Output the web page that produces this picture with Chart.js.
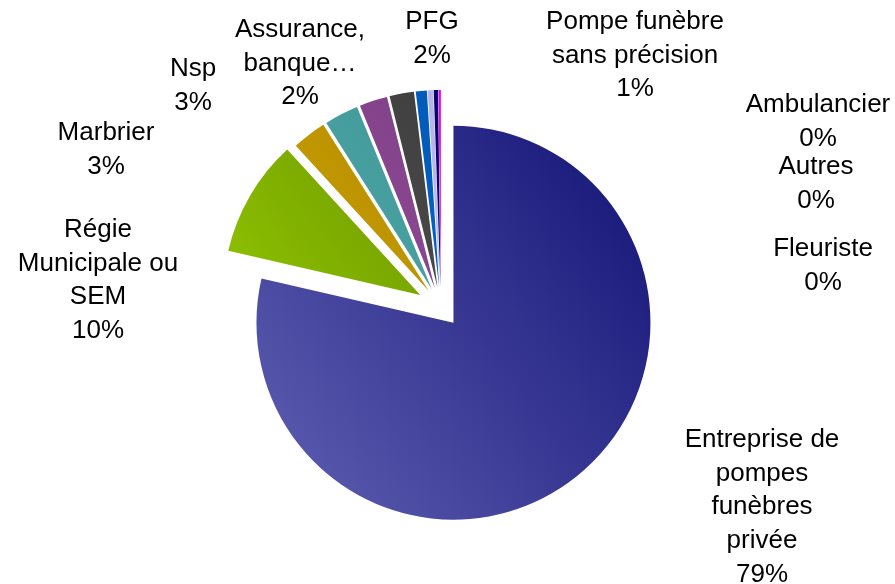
<!DOCTYPE html>
<html>
<head>
<meta charset="utf-8">
<script src="https://cdn.jsdelivr.net/npm/chart.js@4.4.1/dist/chart.umd.min.js"></script>
<style>
    html, body { margin: 0; padding: 0; background: #ffffff; }
    #wrap { width: 895px; height: 584px; }
</style>
</head>
<body>
<div id="wrap"><canvas id="operatorPieChart" width="895" height="584"></canvas></div>
<script>
//// Declarations states

// Data
const categories = [
    ['Entreprise de', 'pompes', 'funèbres', 'privée'],
    ['Régie', 'Municipale ou', 'SEM'],
    ['Marbrier'],
    ['Nsp'],
    ['Assurance,', 'banque…'],
    ['PFG'],
    ['Pompe funèbre', 'sans précision'],
    ['Ambulancier'],
    ['Autres'],
    ['Fleuriste']
];
const shares = [78.6, 9.6, 2.8, 2.8, 2.3, 2.0, 0.9, 0.45, 0.35, 0.2];

// Styles
const lightColors = ['#5858ad', '#94ca00', '#d8ab00', '#56b1b1', '#9b56a1', '#5c5c5c', '#0a72de', '#cacaf6', '#121292', '#ff30ff'];
const darkColors  = ['#1a1a7c', '#5e8200', '#a47e00', '#3a8e8e', '#77397e', '#363636', '#0052ad', '#aeaee6', '#00005e', '#d800d8'];
const explode = [20, 24, 20, 20, 20, 20, 20, 20, 20, 20];
// label anchors: centre x, centre y of first line
const labelAnchors = [
    [762, 440], [98, 230], [106, 133], [193, 69], [300, 30],
    [432, 22], [635, 22], [818, 105], [816, 167], [823, 249]
];
const labelFont = '26px "Liberation Sans", Arial, sans-serif';
const lineHeight = 33.6;
const pieRadius = 197;

// Functions
const sliceGradient = (context) => {
    const chart = context.chart;
    const area = chart.chartArea;
    const i = context.dataIndex;
    if (!area) {
        return lightColors[i];
    }
    const cx = (area.left + area.right) / 2;
    const cy = (area.top + area.bottom) / 2;
    const g = chart.ctx.createLinearGradient(cx - pieRadius, cy + pieRadius * 0.5, cx + pieRadius * 0.8, cy - pieRadius * 0.8);
    g.addColorStop(0, lightColors[i]);
    g.addColorStop(1, darkColors[i]);
    return g;
}

// push every slice away from the centre along its own mid angle
const explodePlugin = {
    id: 'explodeSlices',
    afterDatasetUpdate(chart, args) {
        args.meta.data.forEach((arc, i) => {
            const mid = (arc.startAngle + arc.endAngle) / 2;
            arc.x += Math.cos(mid) * explode[i];
            arc.y += Math.sin(mid) * explode[i];
        });
    }
}

const labelPlugin = {
    id: 'sliceLabels',
    afterDraw(chart) {
        const ctx = chart.ctx;
        const values = chart.data.datasets[0].data;
        const total = values.reduce((a, b) => a + b, 0);
        ctx.save();
        ctx.font = labelFont;
        ctx.fillStyle = '#000000';
        ctx.textAlign = 'center';
        ctx.textBaseline = 'middle';
        chart.data.labels.forEach((lines, i) => {
            const text = lines.concat([Math.round(values[i] / total * 100) + '%']);
            const [x, y] = labelAnchors[i];
            text.forEach((line, k) => ctx.fillText(line, x, y + k * lineHeight));
        });
        ctx.restore();
    }
}

//// Executions state
window.onload = () => {
    const operatorPieChart = document.getElementById('operatorPieChart');

    const pieData = {
        labels: categories,
        datasets: [{
            data: shares,
            backgroundColor: sliceGradient,
            borderWidth: 0
        }]
    };

    new Chart(operatorPieChart, {
        type: 'pie',
        data: pieData,
        options: {
            responsive: false,
            animation: false,
            devicePixelRatio: 1,
            radius: pieRadius,
            layout: { padding: { left: 0, right: 13, top: 30, bottom: 0 } },
            plugins: {
                legend: { display: false },
                tooltip: { enabled: false }
            }
        },
        plugins: [explodePlugin, labelPlugin]
    });
}
</script>
</body>
</html>
